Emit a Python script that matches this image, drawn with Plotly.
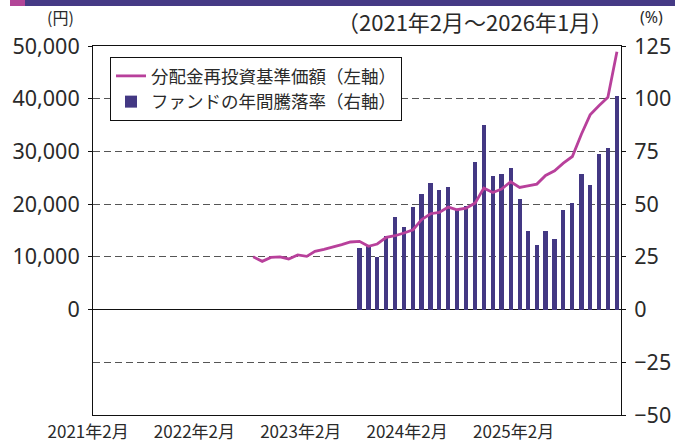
import pandas as pd
import plotly.graph_objects as go

# ---- data ----
nav_start = "2022-08-01"
nav_values = [10000, 9150, 9900, 9980, 9600, 10360, 10100, 11040, 11420, 11800,
              12310, 12820, 12940, 12000, 12440, 13700, 14010, 14520, 15150, 17050,
              18180, 18430, 19450, 18940, 19250, 20200, 23040, 22220, 22850, 24240,
              23170, 23480, 23800, 25440, 26330, 27780, 29040, 33270, 36930, 38700,
              40280, 48920]

ret_start = "2023-08-01"
ret_values = [29.0, 30.0, 24.8, 35.0, 43.7, 39.0, 48.8, 54.9, 60.1, 56.8,
              58.2, 47.3, 49.2, 69.8, 87.3, 63.4, 64.5, 67.2, 52.6, 37.4,
              30.8, 37.4, 33.6, 47.3, 50.7, 64.4, 58.9, 73.9, 76.7, 101.3]

x_tick_dates = ["2021-02-01", "2022-02-01", "2023-02-01", "2024-02-01", "2025-02-01"]
x_tick_text = ["2021年2月", "2022年2月", "2023年2月", "2024年2月", "2025年2月"]
left_ticks = [0, 10000, 20000, 30000, 40000, 50000]
right_ticks = [-50, -25, 0, 25, 50, 75, 100, 125]

name_line = "分配金再投資基準価額（左軸）"
name_bar = "ファンドの年間騰落率（右軸）"
period_text = "（2021年2月～2026年1月）"

nav_dates = pd.date_range(nav_start, periods=len(nav_values), freq="MS")
ret_dates = pd.date_range(ret_start, periods=len(ret_values), freq="MS")

# ---- layout geometry ----
W, H = 675, 442
L, R, T, B = 93, 54, 46, 27
PW, PH = W - L - R, H - T - B

def px(xp):
    return (xp - L) / PW

def py(yp):
    return (H - B - yp) / PH

FONT = "Noto Sans CJK JP, Noto Sans, sans-serif"
NUMFONT = "Noto Sans, sans-serif"
TXT = "#2a2a2a"
BAR_C = "#433883"
LINE_C = "#B8409B"

fig = go.Figure()
fig.add_trace(go.Bar(
    x=ret_dates, y=ret_values, name=name_bar, yaxis="y",
    marker=dict(color=BAR_C, line=dict(width=0)),
    width=1.25e9, legendrank=2,
))
fig.add_trace(go.Scatter(
    x=nav_dates, y=nav_values, name=name_line, yaxis="y2", mode="lines",
    line=dict(color=LINE_C, width=2.8), legendrank=1,
))

fig.update_layout(
    width=W, height=H,
    margin=dict(l=L, r=R, t=T, b=B, pad=0, autoexpand=False),
    paper_bgcolor="white", plot_bgcolor="white",
    font=dict(family=FONT, color=TXT),
    showlegend=True,
    legend=dict(
        x=px(110), y=py(57), xanchor="left", yanchor="top",
        bgcolor="white", bordercolor="#111", borderwidth=1,
        font=dict(size=17.5, family=FONT, color=TXT),
        tracegroupgap=0, itemwidth=30,
    ),
    xaxis=dict(
        type="date", range=["2021-01-28", "2026-01-15"],
        tickvals=x_tick_dates, ticktext=x_tick_text,
        tickfont=dict(size=17, family=FONT, color=TXT),
        showgrid=False, zeroline=False,
        showline=True, linecolor="#111", linewidth=1, mirror=True,
        ticks="", ticklabelstandoff=2, ticklabelshift=-6,
        anchor="y", automargin=False,
    ),
    yaxis=dict(
        side="right", range=[-50, 125], tickvals=right_ticks,
        tickfont=dict(size=21.5, family=NUMFONT, color=TXT),
        showgrid=True, gridcolor="#555", gridwidth=1, griddash="7px,4px",
        zeroline=True, zerolinecolor="#111", zerolinewidth=1,
        showline=True, linecolor="#111", linewidth=1,
        ticks="outside", ticklen=4, tickcolor="#111",
        ticklabelstandoff=4, automargin=False,
    ),
    yaxis2=dict(
        side="left", overlaying="y", range=[-20000, 50000], tickvals=left_ticks,
        tickformat=",",
        tickfont=dict(size=21.5, family=NUMFONT, color=TXT),
        showgrid=False, zeroline=False,
        showline=True, linecolor="#111", linewidth=1,
        ticks="outside", ticklen=4, tickcolor="#111",
        ticklabelstandoff=4, automargin=False,
    ),
    bargap=0,
)

# top decorative band
fig.add_shape(type="rect", xref="paper", yref="paper",
              x0=px(25), x1=px(675), y0=py(6), y1=py(0),
              fillcolor="#453A85", line=dict(width=0), layer="above")
fig.add_shape(type="rect", xref="paper", yref="paper",
              x0=px(10), x1=px(25), y0=py(6), y1=py(0),
              fillcolor="#B24597", line=dict(width=0), layer="above")

# unit labels and period
fig.add_annotation(x=px(60), y=py(17), xref="paper", yref="paper",
                   text="(円)", showarrow=False, xanchor="center", yanchor="middle",
                   font=dict(size=16, family=FONT, color=TXT))
fig.add_annotation(x=px(651), y=py(17), xref="paper", yref="paper",
                   text="(%)", showarrow=False, xanchor="center", yanchor="middle",
                   font=dict(size=16, family=NUMFONT, color=TXT))
fig.add_annotation(x=px(615), y=py(21), xref="paper", yref="paper",
                   text=period_text, showarrow=False, xanchor="right", yanchor="middle",
                   font=dict(size=22, family=FONT, color=TXT))

fig.write_html(
    "out.html",
    config={"responsive": False, "displayModeBar": False},
    post_script="document.body.style.margin='0';document.body.style.padding='0';",
)
